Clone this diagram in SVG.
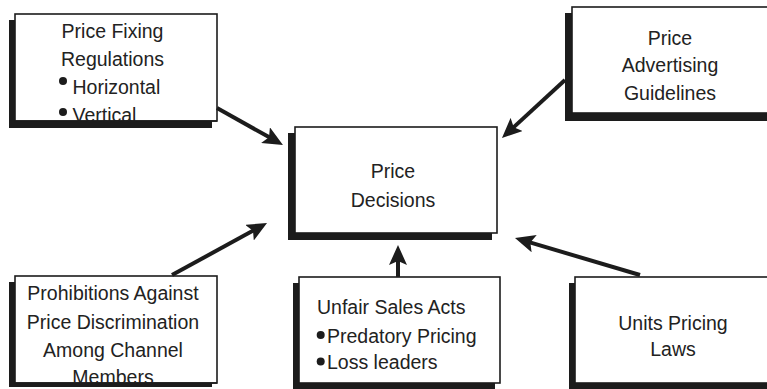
<svg xmlns="http://www.w3.org/2000/svg" width="767" height="389" viewBox="0 0 767 389">
  <style>
    .shadow { fill: #1c1c1c; }
    .box { fill: #ffffff; stroke: #1c1c1c; stroke-width: 1.6; }
    .t { font-family: "Liberation Sans", Arial, sans-serif; font-size: 19.5px; fill: #222222; }
    .c { text-anchor: middle; }
    .dot { fill: #1c1c1c; }
    .arrow { stroke: #1c1c1c; stroke-width: 4; fill: none; marker-end: url(#head); }
  </style>
  <defs>
    <marker id="head" markerUnits="userSpaceOnUse" viewBox="0 0 20 18" markerWidth="20" markerHeight="18" refX="8" refY="9" orient="auto">
      <path d="M0,0 L20,9 L0,18 L4,9 Z" fill="#1c1c1c"/>
    </marker>
  </defs>
  <rect width="767" height="389" fill="#ffffff"/>

  <g id="price-fixing">
    <rect class="shadow" x="9" y="20" width="203" height="108"/>
    <rect class="box" x="15" y="14" width="202" height="107"/>
    <text class="t c" x="112.5" y="37.5">Price Fixing</text>
    <text class="t c" x="112.5" y="66">Regulations</text>
    <circle class="dot" cx="63" cy="81" r="4"/>
    <text class="t" x="72.5" y="94">Horizontal</text>
    <circle class="dot" cx="63" cy="112" r="4"/>
    <text class="t" x="72.5" y="122">Vertical</text>
    <line x1="15" y1="121" x2="217" y2="121" stroke="#1c1c1c" stroke-width="1.6"/>
  </g>

  <g id="price-advertising">
    <rect class="shadow" x="565" y="13" width="215" height="108"/>
    <rect class="box" x="572" y="7" width="210" height="106"/>
    <text class="t c" x="670" y="45">Price</text>
    <text class="t c" x="670" y="72">Advertising</text>
    <text class="t c" x="670" y="100">Guidelines</text>
  </g>

  <g id="price-decisions">
    <rect class="shadow" x="288" y="133" width="204" height="107"/>
    <rect class="box" x="295" y="127" width="202" height="106"/>
    <text class="t c" x="393" y="178">Price</text>
    <text class="t c" x="393" y="206.5">Decisions</text>
  </g>

  <g id="prohibitions">
    <rect class="shadow" x="9" y="282" width="203" height="105"/>
    <rect class="box" x="15" y="276" width="202" height="107"/>
    <text class="t c" x="113" y="300">Prohibitions Against</text>
    <text class="t c" x="113" y="328.5">Price Discrimination</text>
    <text class="t c" x="113" y="356.5">Among Channel</text>
    <text class="t c" x="113" y="383.5">Members</text>
    <line x1="15" y1="383" x2="217" y2="383" stroke="#1c1c1c" stroke-width="1.6"/>
  </g>

  <g id="unfair-sales">
    <rect class="shadow" x="293" y="283" width="202" height="106"/>
    <rect class="box" x="299" y="277" width="201" height="106"/>
    <text class="t" x="317" y="314">Unfair Sales Acts</text>
    <circle class="dot" cx="320.7" cy="335" r="4"/>
    <text class="t" x="327" y="342.5">Predatory Pricing</text>
    <circle class="dot" cx="320.7" cy="361.5" r="4"/>
    <text class="t" x="327" y="369">Loss leaders</text>
  </g>

  <g id="units-pricing">
    <rect class="shadow" x="569" y="283" width="210" height="106"/>
    <rect class="box" x="575" y="277" width="210" height="106"/>
    <text class="t c" x="673" y="329.5">Units Pricing</text>
    <text class="t c" x="673" y="356">Laws</text>
  </g>

  <g id="connectors">
    <line class="arrow" x1="217" y1="108" x2="272.5" y2="139.1"/>
    <line class="arrow" x1="565" y1="80" x2="510.8" y2="129.9"/>
    <line class="arrow" x1="172" y1="275" x2="256.5" y2="228.8"/>
    <line class="arrow" x1="640" y1="275" x2="526.5" y2="241.4"/>
    <line class="arrow" x1="398" y1="277" x2="398" y2="257"/>
  </g>
</svg>
